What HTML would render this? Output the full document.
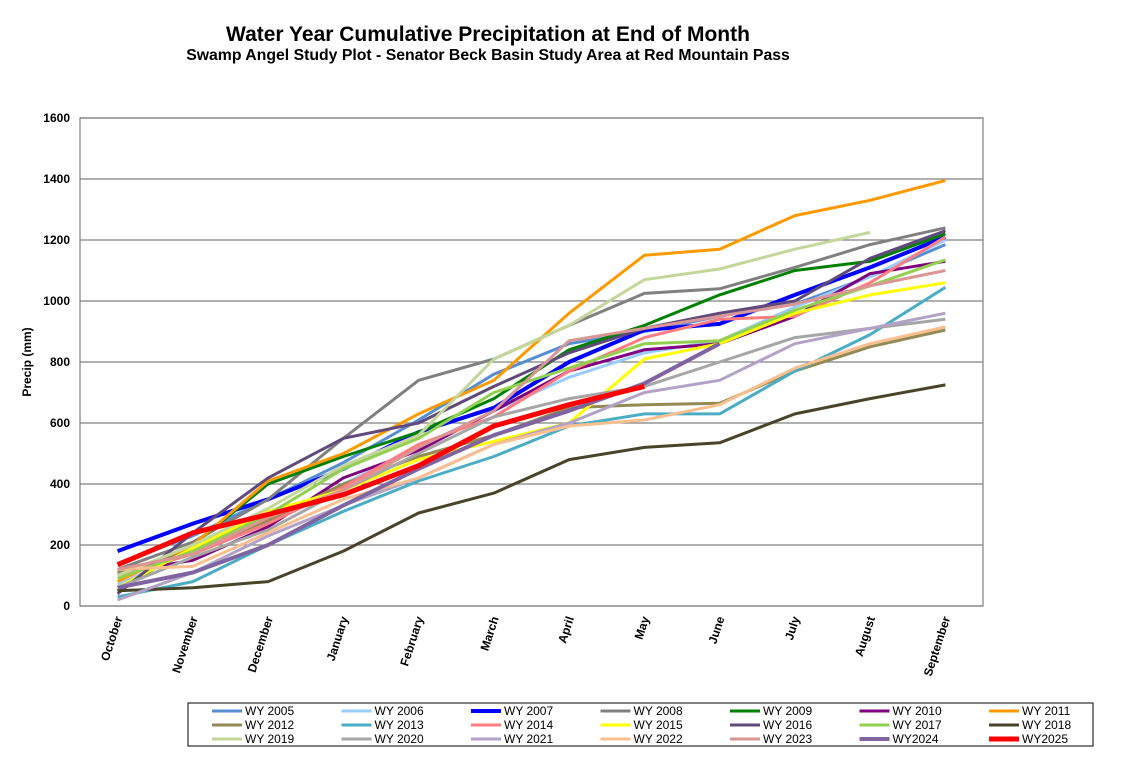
<!DOCTYPE html>
<html><head><meta charset="utf-8"><style>
body{margin:0;background:#fff;font-family:"Liberation Sans",Arial,sans-serif}
svg text{font-family:"Liberation Sans",Arial,sans-serif}
</style></head><body>
<svg id="chart" width="1122" height="762" xmlns="http://www.w3.org/2000/svg">
<rect width="1122" height="762" fill="#fff"/>
<text x="488" y="41" text-anchor="middle" font-size="21" font-weight="bold">Water Year Cumulative Precipitation  at End of Month</text>
<text x="488" y="60" text-anchor="middle" font-size="15.8" font-weight="bold">Swamp Angel Study Plot - Senator Beck Basin Study Area at Red Mountain Pass</text>
<text transform="translate(31,362) rotate(-90)" text-anchor="middle" font-size="12" font-weight="bold">Precip (mm)</text>
<g id="grid"></g><g id="series"></g><g id="axes"></g><g id="legend"></g>
</svg>
<script>
const months=["October","November","December","January","February","March","April","May","June","July","August","September"];
const yTicks=[0,200,400,600,800,1000,1200,1400,1600];
const seriesNames=["WY 2005","WY 2006","WY 2007","WY 2008","WY 2009","WY 2010","WY 2011","WY 2012","WY 2013","WY 2014","WY 2015","WY 2016","WY 2017","WY 2018","WY 2019","WY 2020","WY 2021","WY 2022","WY 2023","WY2024","WY2025"];
const seriesColors=["#558ed5","#99ccff","#0000ff","#808080","#008000","#800080","#ff9900","#948a54","#4bacc6","#ff7c80","#ffff00","#604a7b","#92d050","#494429","#c4d79b","#a6a6a6","#b3a2c7","#fabf8f","#da9694","#8064a2","#ff0000"];
const seriesWidths=[3,3,4,3,3,3,3,3,3,3,3,3,3,3,3,3,3,3,3,4,5];
const wy2005=[140,230,350,470,610,760,860,900,950,990,1080,1185];
const wy2006=[70,180,280,400,520,640,750,830,870,980,1080,1200];
const wy2007=[180,270,350,450,570,650,800,905,925,1020,1110,1210];
const wy2008=[120,210,350,550,740,810,920,1025,1040,1110,1185,1240];
const wy2009=[50,200,400,490,570,680,840,920,1020,1100,1130,1220];
const wy2010=[110,150,260,420,510,640,770,840,860,950,1090,1130];
const wy2011=[80,200,410,500,630,740,960,1150,1170,1280,1330,1395];
const wy2012=[110,180,280,400,490,560,650,660,665,770,850,905];
const wy2013=[30,80,200,310,410,490,590,630,630,770,890,1045];
const wy2014=[100,170,270,390,530,620,770,880,940,950,1060,1210];
const wy2015=[60,190,310,380,480,540,600,810,860,960,1020,1060];
const wy2016=[40,240,420,550,600,720,830,910,960,1000,1140,1230];
const wy2017=[90,180,300,450,550,700,780,860,870,970,1050,1135];
const wy2018=[50,60,80,180,305,370,480,520,535,630,680,725];
const wy2019=[100,200,320,460,560,810,920,1070,1105,1170,1225,null];
const wy2020=[60,160,250,380,500,620,680,720,800,880,910,940];
const wy2021=[20,110,230,330,420,530,600,700,740,860,910,960];
const wy2022=[120,130,240,350,420,530,590,610,660,780,860,915];
const wy2023=[120,170,290,380,520,640,870,910,950,990,1050,1100];
const wy2024=[60,110,200,330,450,560,640,730,860,null,null,null];
const wy2025=[135,240,300,365,460,590,660,720,null,null,null,null];
const seriesData=[wy2005,wy2006,wy2007,wy2008,wy2009,wy2010,wy2011,wy2012,wy2013,wy2014,wy2015,wy2016,wy2017,wy2018,wy2019,wy2020,wy2021,wy2022,wy2023,wy2024,wy2025];

const NS="http://www.w3.org/2000/svg";
const L=80,R=983,T=118,B=606;
const x=i=>L+(R-L)/months.length*(i+0.5);
const y=v=>B-(v/1600)*(B-T);
function mk(tag,parent,attrs){const e=document.createElementNS(NS,tag);for(const k in attrs)e.setAttribute(k,attrs[k]);parent.appendChild(e);return e;}
const grid=document.getElementById('grid'),axes=document.getElementById('axes'),sg=document.getElementById('series'),lg=document.getElementById('legend');
yTicks.forEach(t=>{
  const ln=mk('line',grid,{x1:L,x2:R,y1:y(t),y2:y(t),stroke:'#808080','stroke-width':1.2});
  
  
  const tx=mk('text',axes,{x:70,y:y(t)+4,'text-anchor':'end','font-size':12,'font-weight':'bold'});
  tx.textContent=t;
  
  
});
const frame=mk('rect',axes,{x:L,y:T,width:R-L,height:B-T,fill:'none',stroke:'#808080','stroke-width':1.2});


months.forEach((m,i)=>{
  const tx=mk('text',axes,{transform:`translate(${x(i)+5},${B+12}) rotate(-72)`,'text-anchor':'end','font-size':12,'font-weight':'bold'});
  tx.textContent=m;
  
  
});
seriesData.forEach((d,s)=>{
  const pts=[];d.forEach((v,i)=>{if(v!==null)pts.push(x(i).toFixed(1)+','+y(v).toFixed(1));});
  const pl=mk('polyline',sg,{points:pts.join(' '),fill:'none',stroke:seriesColors[s],'stroke-width':seriesWidths[s],'stroke-linejoin':'round'});
  
  
});
const box=mk('rect',lg,{x:188,y:703,width:905,height:43,fill:'#fff',stroke:'#000','stroke-width':1});


seriesNames.forEach((n,s)=>{
  const c=s%7,r=Math.floor(s/7);
  const lx=212+129.5*c,ly=711+14*r;
  const g=mk('g',lg,{});
  
  
  mk('line',g,{x1:lx,x2:lx+30,y1:ly,y2:ly,stroke:seriesColors[s],'stroke-width':seriesWidths[s]});
  const t=mk('text',g,{x:lx+33,y:ly+4,'font-size':12});
  t.textContent=n;
});
</script>
</body></html>
